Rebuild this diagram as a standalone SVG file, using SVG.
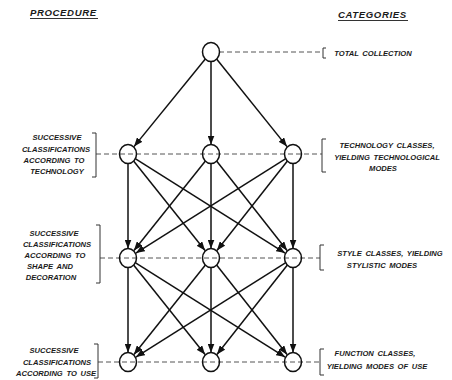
<svg xmlns="http://www.w3.org/2000/svg" width="452" height="380" viewBox="0 0 452 380">
<defs>
<marker id="ah" markerUnits="userSpaceOnUse" markerWidth="9" markerHeight="7" refX="9" refY="3.5" orient="auto"><path d="M0,0 L9,3.5 L0,7 z" fill="#111"/></marker>
<style>
.lbl{font-family:"Liberation Sans",Arial,sans-serif;font-style:italic;font-weight:bold;font-size:7.6px;fill:#1a1a1a;text-anchor:middle;word-spacing:1.5px}
.hdr{font-family:"Liberation Sans",Arial,sans-serif;font-style:italic;font-weight:bold;font-size:9.6px;fill:#1a1a1a;letter-spacing:0.6px}
.node{fill:none;stroke:#111;stroke-width:1.5}
.dash{stroke:#555;stroke-width:1;stroke-dasharray:5 3;fill:none}
.br{stroke:#333;stroke-width:1;fill:none}
.arr{stroke:#111;stroke-width:1.5;fill:none;marker-end:url(#ah)}
</style>
</defs>
<rect width="452" height="380" fill="#fff"/>
<g id="headers">
<text class="hdr" x="30" y="16">PROCEDURE</text>
<line x1="30" y1="18.5" x2="98" y2="18.5" stroke="#333" stroke-width="1.1"/>
<text class="hdr" x="338" y="18">CATEGORIES</text>
<line x1="338" y1="20.5" x2="408" y2="20.5" stroke="#333" stroke-width="1.1"/>
</g>
<g id="guides">
<line class="dash" x1="219" y1="52" x2="323" y2="52"/>
<line class="dash" x1="96" y1="154" x2="322" y2="154"/>
<line class="dash" x1="100" y1="258" x2="320" y2="258"/>
<line class="dash" x1="98" y1="362" x2="320" y2="362"/>
<path class="br" d="M326,48 H323 V58 H326"/>
<path class="br" d="M92,133 H96 V177 H92"/>
<path class="br" d="M326,139 H322 V172 H326"/>
<path class="br" d="M96,225 H100 V283 H96"/>
<path class="br" d="M324,245 H320 V270 H324"/>
<path class="br" d="M94,344 H98 V378 H94"/>
<path class="br" d="M324,349 H320 V375 H324"/>
</g>
<g id="connectors">
<line class="arr" x1="205.3" y1="59" x2="134" y2="146.6"/>
<line class="arr" x1="211" y1="61.5" x2="211" y2="144.5"/>
<line class="arr" x1="216.6" y1="59" x2="287" y2="146.6"/>

<line class="arr" x1="128" y1="163.5" x2="128" y2="248.5"/>
<line class="arr" x1="133.6" y1="161" x2="205.07" y2="250.57"/>
<line class="arr" x1="135.6" y1="158.8" x2="285.13" y2="253.04"/>
<line class="arr" x1="205.4" y1="161" x2="133.93" y2="250.57"/>
<line class="arr" x1="211" y1="163.5" x2="211" y2="248.5"/>
<line class="arr" x1="216.6" y1="161" x2="287.07" y2="250.57"/>
<line class="arr" x1="285.4" y1="158.8" x2="135.87" y2="253.04"/>
<line class="arr" x1="287.4" y1="161" x2="216.93" y2="250.57"/>
<line class="arr" x1="293" y1="163.5" x2="293" y2="248.5"/>

<line class="arr" x1="128" y1="267.5" x2="128" y2="352.5"/>
<line class="arr" x1="133.6" y1="265" x2="205.07" y2="354.57"/>
<line class="arr" x1="135.6" y1="262.8" x2="285.13" y2="357.04"/>
<line class="arr" x1="205.4" y1="265" x2="133.93" y2="354.57"/>
<line class="arr" x1="211" y1="267.5" x2="211" y2="352.5"/>
<line class="arr" x1="216.6" y1="265" x2="287.07" y2="354.57"/>
<line class="arr" x1="285.4" y1="262.8" x2="135.87" y2="357.04"/>
<line class="arr" x1="287.4" y1="265" x2="216.93" y2="354.57"/>
<line class="arr" x1="293" y1="267.5" x2="293" y2="352.5"/>
</g>
<g id="n0"><ellipse class="node" cx="211" cy="52" rx="8.5" ry="9.5" fill="#fff"/></g>
<g id="n1"><ellipse class="node" cx="128" cy="154" rx="8.5" ry="9.5"/></g>
<g id="n2"><ellipse class="node" cx="211" cy="154" rx="8.5" ry="9.5"/></g>
<g id="n3"><ellipse class="node" cx="293" cy="154" rx="8.5" ry="9.5"/></g>
<g id="n4"><ellipse class="node" cx="128" cy="258" rx="8.5" ry="9.5"/></g>
<g id="n5"><ellipse class="node" cx="211" cy="258" rx="8.5" ry="9.5"/></g>
<g id="n6"><ellipse class="node" cx="293" cy="258" rx="8.5" ry="9.5"/></g>
<g id="n7"><ellipse class="node" cx="128" cy="362" rx="8.5" ry="9.5"/></g>
<g id="n8"><ellipse class="node" cx="211" cy="362" rx="8.5" ry="9.5"/></g>
<g id="n9"><ellipse class="node" cx="293" cy="362" rx="8.5" ry="9.5"/></g>
<g id="labels">
<text class="lbl" x="373" y="56">TOTAL COLLECTION</text>

<text class="lbl" x="57" y="140">SUCCESSIVE</text>
<text class="lbl" x="56" y="152">CLASSIFICATIONS</text>
<text class="lbl" x="54" y="163">ACCORDING TO</text>
<text class="lbl" x="57" y="174">TECHNOLOGY</text>

<text class="lbl" x="387" y="148">TECHNOLOGY CLASSES,</text>
<text class="lbl" x="387" y="160">YIELDING TECHNOLOGICAL</text>
<text class="lbl" x="383" y="171">MODES</text>

<text class="lbl" x="54" y="236">SUCCESSIVE</text>
<text class="lbl" x="57" y="247">CLASSIFICATIONS</text>
<text class="lbl" x="55" y="258">ACCORDING TO</text>
<text class="lbl" x="50" y="269">SHAPE AND</text>
<text class="lbl" x="51" y="280">DECORATION</text>

<text class="lbl" x="390" y="256">STYLE CLASSES, YIELDING</text>
<text class="lbl" x="382" y="268">STYLISTIC MODES</text>

<text class="lbl" x="54" y="353">SUCCESSIVE</text>
<text class="lbl" x="57" y="365">CLASSIFICATIONS</text>
<text class="lbl" x="56" y="376">ACCORDING TO USE</text>

<text class="lbl" x="375" y="356">FUNCTION CLASSES,</text>
<text class="lbl" x="377" y="369">YIELDING MODES OF USE</text>
</g>
</svg>
